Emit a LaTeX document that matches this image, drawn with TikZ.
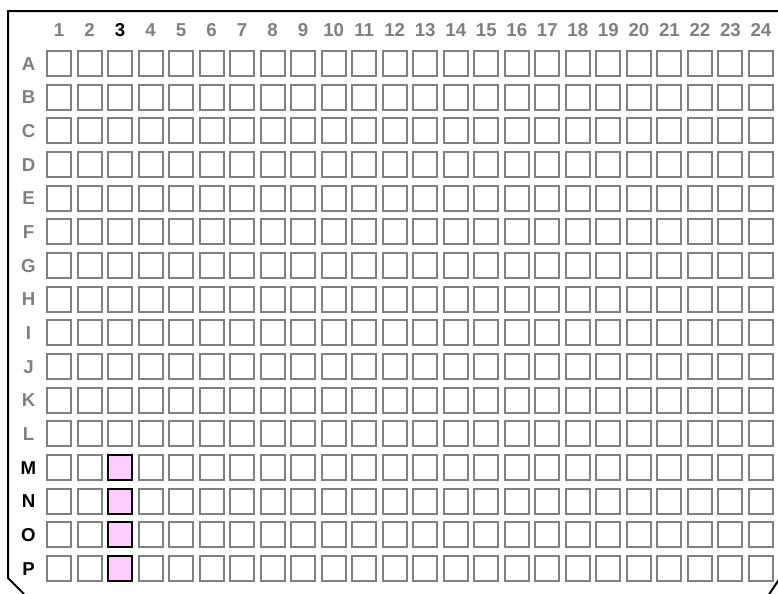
\documentclass[tikz,border=0pt]{standalone}
\usepackage{fontspec}
\setmainfont{Liberation Sans}
\definecolor{wellgray}{HTML}{808080}
\definecolor{pickpink}{HTML}{FFCCFF}
\begin{document}
\begin{tikzpicture}[x=0.75pt,y=-0.75pt]
% Stili
\tikzstyle{well} = [
    rectangle,
    draw=wellgray,
    line width=1.5pt,
    minimum width=18pt,
    minimum height=18.75pt,
    inner sep=0pt
]

\tikzstyle{picked} = [
    well,
    draw=black,
    fill=pickpink,
    line width=1.4pt
]

\tikzstyle{collabel} = [
    inner sep=0pt,
    anchor=base,
    font=\fontsize{14}{16}\selectfont\bfseries
]

\tikzstyle{rowlabel} = [
    inner sep=0pt,
    anchor=base,
    font=\fontsize{14}{16}\selectfont\bfseries
]

\useasboundingbox (0,0) rectangle (778,593);
\clip (0,0) rectangle (778,593);

% Piastra
\coordinate (bl) at (24,594);
\coordinate (lb) at (8,578);
\coordinate (tl) at (8,11);
\coordinate (tr) at (800,11);
\coordinate (rt) at (786,569);
\coordinate (br) at (766,599);
\draw[line width=1.5pt] (bl) -- (lb) -- (tl) -- (tr);
\draw[line width=1.5pt] (rt) -- (br);

% Pozzetti
\foreach \r [count=\i] in {A,...,P} {
    \foreach \c in {1,...,24} {
        \node[well] (\r\c) at ({59+(\c-1)*30.52},{63.5+(\i-1)*33.67}) {};
    }
    \ifnum\i>12 \def\lcol{black}\else\def\lcol{wellgray}\fi
    \node[rowlabel, text=\lcol] (row\r) at (28.5,{70+(\i-1)*33.67}) {\r};
}

% Colonne
\foreach \c in {1,...,24} {
    \ifnum\c=3 \def\lcol{black}\else\def\lcol{wellgray}\fi
    \node[collabel, text=\lcol] (col\c) at ({59+(\c-1)*30.52},36) {\c};
}

% Selezione
\foreach \r in {M,N,O,P} {
    \node[picked] (sel\r) at (\r3) {};
}

\end{tikzpicture}
\end{document}
